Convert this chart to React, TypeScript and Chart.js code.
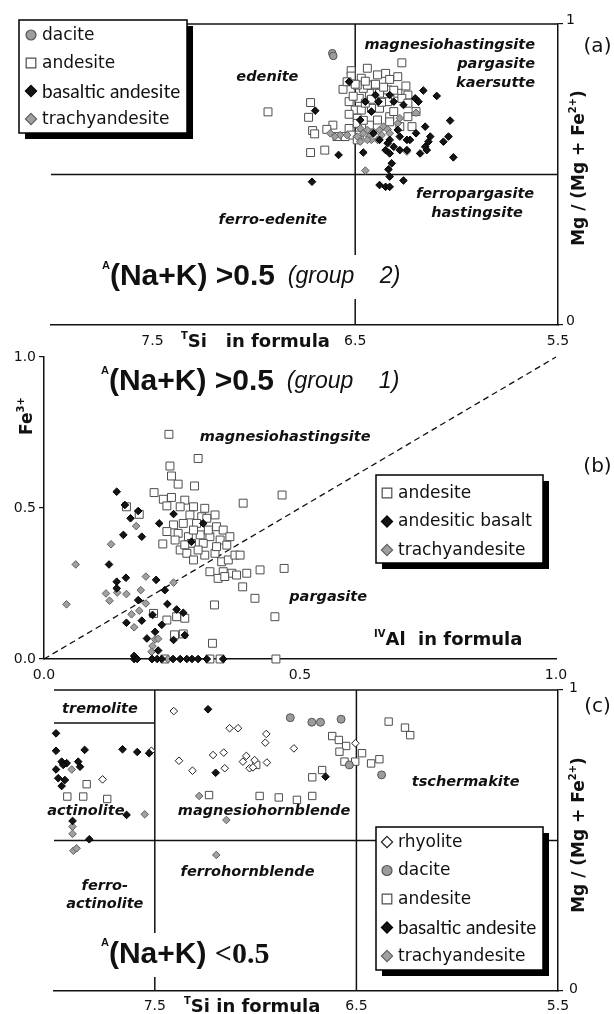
import React, { useEffect, useRef } from "react";
import { Chart, registerables } from "chart.js";

Chart.register(...registerables);

type Pt = [number, number];

// ================= Panel (a): TSi vs Mg/(Mg+Fe2+), A(Na+K) > 0.5 (group 2)
const A_DACITE: Pt[] = [[6.613, 0.903], [6.608, 0.894]];
const A_ANDESITE: Pt[] = [
  [6.27, 0.871], [6.44, 0.853], [6.52, 0.845], [6.72, 0.739], [6.73, 0.69], [6.71, 0.646], [6.7, 0.635],
  [6.72, 0.573], [6.65, 0.581], [6.61, 0.664], [6.64, 0.65], [6.56, 0.783], [6.53, 0.742], [6.52, 0.827],
  [6.47, 0.82], [6.39, 0.831], [6.35, 0.836], [6.33, 0.816], [6.29, 0.825], [6.25, 0.794], [6.24, 0.764],
  [6.34, 0.781], [6.43, 0.77], [6.46, 0.786], [6.5, 0.714], [6.47, 0.714], [6.42, 0.72], [6.38, 0.72],
  [6.41, 0.797], [6.44, 0.797], [6.29, 0.77], [6.27, 0.753], [6.24, 0.692], [6.33, 0.692], [6.49, 0.687],
  [6.53, 0.653], [6.52, 0.631], [6.48, 0.631], [6.49, 0.615], [6.55, 0.626], [6.59, 0.626], [6.43, 0.664],
  [6.39, 0.681], [6.33, 0.675], [6.34, 0.742], [6.31, 0.709], [6.48, 0.753], [6.45, 0.737], [6.49, 0.67],
  [6.28, 0.659], [6.24, 0.737], [6.22, 0.659], [6.2, 0.709], [6.54, 0.808], [6.38, 0.77], [6.49, 0.797],
  [6.93, 0.708], [6.5, 0.8], [6.45, 0.81], [6.4, 0.8], [6.36, 0.79], [6.31, 0.78], [6.42, 0.75], [6.37, 0.74],
  [6.53, 0.7], [6.46, 0.68], [6.51, 0.76],
];
const A_BASALTIC: Pt[] = [
  [6.713, 0.476], [6.697, 0.712], [6.582, 0.565], [6.53, 0.808], [6.46, 0.573], [6.45, 0.742], [6.475, 0.681],
  [6.4, 0.764], [6.385, 0.742], [6.42, 0.709], [6.33, 0.764], [6.31, 0.742], [6.262, 0.731], [6.204, 0.753],
  [6.188, 0.742], [6.164, 0.779], [6.098, 0.761], [6.155, 0.659], [6.13, 0.626], [6.032, 0.679], [6.04, 0.626],
  [6.065, 0.609], [6.016, 0.557], [6.155, 0.592], [6.147, 0.581], [6.18, 0.57], [6.245, 0.615], [6.28, 0.626],
  [6.33, 0.615], [6.34, 0.604], [6.35, 0.581], [6.31, 0.592], [6.28, 0.581], [6.33, 0.57], [6.32, 0.537],
  [6.336, 0.517], [6.33, 0.493], [6.38, 0.465], [6.35, 0.459], [6.33, 0.459], [6.262, 0.48], [6.23, 0.615],
  [6.2, 0.637], [6.41, 0.637], [6.29, 0.648], [6.245, 0.581], [6.38, 0.615], [6.139, 0.609],
];
const A_TRACHY: Pt[] = [
  [6.623, 0.637], [6.574, 0.631], [6.54, 0.631], [6.475, 0.653], [6.46, 0.637], [6.44, 0.648], [6.43, 0.626],
  [6.41, 0.642], [6.38, 0.648], [6.36, 0.659], [6.34, 0.65], [6.39, 0.615], [6.42, 0.615], [6.475, 0.609],
  [6.29, 0.67], [6.28, 0.687], [6.2, 0.705], [6.245, 0.576], [6.45, 0.513], [6.37, 0.631], [6.33, 0.637],
  [6.44, 0.615], [6.49, 0.626], [6.6, 0.626],
];

// ================= Panel (b): IVAl vs Fe3+, A(Na+K) > 0.5 (group 1)
const B_ANDESITE: Pt[] = [
  [0.244, 0.744], [0.301, 0.664], [0.246, 0.639], [0.249, 0.606], [0.262, 0.579], [0.294, 0.573], [0.215, 0.551],
  [0.233, 0.529], [0.249, 0.535], [0.275, 0.526], [0.292, 0.504], [0.314, 0.499], [0.334, 0.477], [0.389, 0.516],
  [0.465, 0.543], [0.24, 0.507], [0.266, 0.504], [0.285, 0.477], [0.308, 0.471], [0.253, 0.444], [0.272, 0.449],
  [0.298, 0.449], [0.318, 0.466], [0.337, 0.438], [0.35, 0.427], [0.363, 0.405], [0.24, 0.422], [0.262, 0.416],
  [0.282, 0.405], [0.305, 0.411], [0.324, 0.405], [0.344, 0.394], [0.357, 0.377], [0.232, 0.381], [0.256, 0.394],
  [0.266, 0.361], [0.279, 0.35], [0.292, 0.328], [0.314, 0.344], [0.334, 0.35], [0.347, 0.322], [0.36, 0.328],
  [0.373, 0.344], [0.383, 0.344], [0.324, 0.289], [0.35, 0.289], [0.367, 0.284], [0.34, 0.267], [0.353, 0.273],
  [0.376, 0.278], [0.396, 0.284], [0.422, 0.295], [0.469, 0.3], [0.388, 0.239], [0.412, 0.201], [0.333, 0.179],
  [0.451, 0.14], [0.24, 0.129], [0.259, 0.14], [0.275, 0.135], [0.272, 0.083], [0.329, 0.052], [0.344, 0],
  [0.453, 0], [0.288, 0.383], [0.311, 0.383], [0.337, 0.372], [0.301, 0.361], [0.275, 0.378], [0.321, 0.427],
  [0.292, 0.427], [0.161, 0.504], [0.186, 0.479], [0.214, 0.151], [0.255, 0.08], [0.236, 0], [0.324, 0],
];
const B_BASALT: Pt[] = [
  [0.142, 0.554], [0.158, 0.51], [0.184, 0.49], [0.169, 0.466], [0.155, 0.411], [0.191, 0.405], [0.225, 0.449],
  [0.127, 0.313], [0.142, 0.256], [0.16, 0.269], [0.142, 0.234], [0.219, 0.262], [0.236, 0.228], [0.184, 0.195],
  [0.241, 0.182], [0.259, 0.164], [0.272, 0.153], [0.161, 0.12], [0.191, 0.127], [0.212, 0.146], [0.23, 0.113],
  [0.217, 0.09], [0.201, 0.068], [0.223, 0.028], [0.253, 0.063], [0.275, 0.079], [0.176, 0.01], [0.253, 0.48],
  [0.311, 0.449], [0.288, 0.388], [0.176, 0], [0.182, 0], [0.211, 0], [0.221, 0], [0.23, 0], [0.252, 0],
  [0.266, 0], [0.279, 0], [0.289, 0], [0.301, 0], [0.318, 0], [0.35, 0],
];
const B_TRACHY: Pt[] = [
  [0.062, 0.313], [0.044, 0.181], [0.131, 0.38], [0.18, 0.44], [0.121, 0.217], [0.128, 0.193], [0.143, 0.22],
  [0.161, 0.215], [0.199, 0.273], [0.189, 0.228], [0.199, 0.184], [0.171, 0.148], [0.186, 0.16], [0.176, 0.105],
  [0.217, 0.065], [0.223, 0.067], [0.212, 0.043], [0.21, 0.024], [0.253, 0.253], [0.211, 0], [0.242, 0],
];

// ================= Panel (c): TSi vs Mg/(Mg+Fe2+), A(Na+K) < 0.5
const C_RHYOLITE: Pt[] = [
  [7.517, 0.798], [7.759, 0.703], [7.406, 0.93], [7.129, 0.873], [7.087, 0.873], [7.38, 0.765], [7.313, 0.732],
  [7.211, 0.784], [7.158, 0.792], [7.153, 0.74], [6.947, 0.854], [6.952, 0.825], [6.81, 0.806], [7.063, 0.762],
  [7.046, 0.781], [7.03, 0.74], [7.005, 0.767], [6.944, 0.759], [7.013, 0.743], [6.505, 0.823],
];
const C_DACITE: Pt[] = [[6.828, 0.908], [6.721, 0.893], [6.678, 0.893], [6.576, 0.903], [6.535, 0.751], [6.375, 0.718]];
const C_ANDESITE: Pt[] = [
  [7.838, 0.687], [7.934, 0.646], [7.855, 0.646], [7.736, 0.638], [7.231, 0.651], [6.62, 0.847], [6.587, 0.834],
  [6.551, 0.814], [6.584, 0.795], [6.472, 0.79], [6.559, 0.762], [6.506, 0.762], [6.427, 0.756], [6.386, 0.77],
  [6.67, 0.734], [6.719, 0.71], [6.98, 0.648], [6.885, 0.643], [6.795, 0.635], [6.719, 0.648], [6.997, 0.751],
  [6.34, 0.895], [6.259, 0.875], [6.233, 0.85],
];
const C_BASALTIC: Pt[] = [
  [7.236, 0.936], [7.99, 0.856], [7.99, 0.798], [7.848, 0.801], [7.66, 0.803], [7.587, 0.794], [7.528, 0.79],
  [7.962, 0.762], [7.937, 0.757], [7.88, 0.762], [7.99, 0.736], [7.954, 0.751], [7.871, 0.745], [7.979, 0.707],
  [7.946, 0.701], [7.962, 0.681], [7.64, 0.585], [7.908, 0.565], [7.825, 0.504], [7.198, 0.725], [6.653, 0.712],
];
const C_TRACHY: Pt[] = [
  [7.912, 0.736], [7.55, 0.587], [7.908, 0.546], [7.908, 0.522], [7.904, 0.466], [7.888, 0.474], [7.145, 0.568],
  [7.195, 0.452], [7.28, 0.648],
];

// ================= Axis ticks
const SI_TICKS = [7.5, 6.5, 5.5];
const MG_TICKS = [0, 1];
const AL_TICKS = [0, 0.5, 1.0];
const FE_TICKS = [0, 0.5, 1.0];

// ================= Classification boundaries
const A_TOP: Pt[] = [[8.0, 1], [5.5, 1]];
const A_HALF: Pt[] = [[8.0, 0.5], [5.5, 0.5]];
const A_SI65: Pt[] = [[6.5, 0], [6.5, 1]];
const B_DIAG: Pt[] = [[0, 0], [1, 1]];
const C_TOP: Pt[] = [[8.0, 1], [5.5, 1]];
const C_HALF: Pt[] = [[8.0, 0.5], [5.5, 0.5]];
const C_SI75: Pt[] = [[7.5, 0], [7.5, 1]];
const C_SI65: Pt[] = [[6.5, 0], [6.5, 1]];
const C_TREM: Pt[] = [[8.0, 0.89], [7.5, 0.89]];

// ================= Styles
const FONT = "'DejaVu Sans'";
const INK = "#111111";
const F_REGION = `italic bold 14.5px ${FONT}`;
const F_TITLE = `bold 18px ${FONT}`;
const F_YTITLE = `bold 17px ${FONT}`;
const F_SUP = `bold 10px ${FONT}`;
const F_BIG = "bold 30px 'Liberation Sans', Arial";
const F_BIG_SERIF = "bold 30px 'Liberation Serif', 'Times New Roman'";
const F_BIG_SUP = "bold 11px 'Liberation Sans', Arial";
const F_GROUP = "italic 23px 'Liberation Sans', Arial";
const F_LEGEND = `17px ${FONT}`;
const F_LEGEND_ALT = "19px Lato";
const F_PANEL = `20px ${FONT}`;

type Kind = "rhyolite" | "dacite" | "andesite" | "basaltic" | "trachy";
const MARK: Record<Kind, any> = {
  rhyolite: { style: "rectRot", r: 3.8, bg: "#ffffff", bd: "#222222", order: 4 },
  dacite: { style: "circle", r: 3.8, bg: "#9c9c9c", bd: "#555555", order: 2 },
  andesite: { style: "rect", r: 5.6, bg: "#ffffff", bd: "#4d4d4d", order: 5 },
  basaltic: { style: "rectRot", r: 3.8, bg: "#141414", bd: "#000000", order: 3 },
  trachy: { style: "rectRot", r: 3.8, bg: "#a0a0a0", bd: "#606060", order: 4 },
};

function series(label: string, pts: Pt[], kind: Kind, legendFont = F_LEGEND, scale = 1) {
  const m = MARK[kind];
  return {
    label, kind, legendFont,
    data: pts.map(([x, y]) => ({ x, y })),
    pointStyle: m.style, pointRadius: m.r * scale, pointHoverRadius: m.r * scale,
    pointBackgroundColor: m.bg, pointBorderColor: m.bd, pointBorderWidth: 1,
    showLine: false, clip: false, order: m.order,
  };
}
function boundary(pts: Pt[], dash: number[] = [], width = 1.5) {
  return {
    label: "", data: pts.map(([x, y]) => ({ x, y })), showLine: true, borderColor: INK,
    borderWidth: width, borderDash: dash, pointRadius: 0, pointHoverRadius: 0, clip: false,
    order: 50, fill: false, tension: 0,
  };
}

const tickFont = { family: FONT, size: 14 };
function siAxis(pad: number) {
  return {
    type: "linear", position: "bottom", min: 5.5, max: 8.0, reverse: true,
    afterBuildTicks: (s: any) => { s.ticks = SI_TICKS.map((v) => ({ value: v })); },
    afterFit: (s: any) => { s.height = 20; },
    ticks: { autoSkip: false, maxRotation: 0, padding: pad, color: INK, font: tickFont, callback: (v: any) => Number(v).toFixed(1) },
    grid: { display: false, drawTicks: false },
    border: { display: true, color: INK, width: 1.5 },
  };
}
function mgAxis(labelOffset: number, pad: number) {
  return {
    type: "linear", position: "right", min: 0, max: 1,
    afterBuildTicks: (s: any) => { s.ticks = MG_TICKS.map((v) => ({ value: v })); },
    afterFit: (s: any) => { s.width = 30; },
    ticks: { autoSkip: false, padding: pad, labelOffset, color: INK, font: tickFont, callback: (v: any) => String(Number(v)) },
    grid: { display: true, drawOnChartArea: false, drawTicks: true, tickLength: 5, color: INK, lineWidth: 1.2 },
    border: { display: true, color: INK, width: 1.5 },
  };
}

// ================= Text helpers
type Seg = { t: string; f: string; dy?: number };
function measure(ctx: CanvasRenderingContext2D, segs: Seg[]) {
  return segs.map((s) => { ctx.font = s.f; return ctx.measureText(s.t).width; });
}
function rich(ctx: CanvasRenderingContext2D, segs: Seg[], x: number, y: number, align: "left" | "center" | "right" = "left") {
  ctx.textBaseline = "middle";
  ctx.textAlign = "left";
  const w = measure(ctx, segs);
  const total = w.reduce((a, b) => a + b, 0);
  let cx = align === "left" ? x : align === "center" ? x - total / 2 : x - total;
  segs.forEach((s, i) => { ctx.font = s.f; ctx.fillText(s.t, cx, y + (s.dy || 0)); cx += w[i]; });
  return total;
}
function rotated(ctx: CanvasRenderingContext2D, segs: Seg[], cx: number, cy: number) {
  ctx.save(); ctx.translate(cx, cy); ctx.rotate(-Math.PI / 2); rich(ctx, segs, 0, 0, "center"); ctx.restore();
}
function bigLabel(ctx: CanvasRenderingContext2D, segs: Seg[], x: number, y: number, clear: boolean) {
  const total = measure(ctx, segs).reduce((a, b) => a + b, 0);
  if (clear) { ctx.fillStyle = "#ffffff"; ctx.fillRect(x - 3, y - 22, total + 6, 44); }
  ctx.fillStyle = INK;
  rich(ctx, segs, x, y, "left");
}
function drawMarker(ctx: CanvasRenderingContext2D, kind: Kind, x: number, y: number) {
  const m = MARK[kind];
  ctx.beginPath();
  if (m.style === "circle") ctx.arc(x, y, 5, 0, Math.PI * 2);
  else if (m.style === "rect") ctx.rect(x - 4.8, y - 4.8, 9.6, 9.6);
  else { const h = 5.6; ctx.moveTo(x, y - h); ctx.lineTo(x + h, y); ctx.lineTo(x, y + h); ctx.lineTo(x - h, y); ctx.closePath(); }
  ctx.fillStyle = m.bg; ctx.fill();
  ctx.lineWidth = 1.2; ctx.strokeStyle = m.bd; ctx.stroke();
}
function legendBox(ctx: CanvasRenderingContext2D, chart: any, L: any, top: number) {
  const y = L.y - top;
  ctx.fillStyle = "#000"; ctx.fillRect(L.x + 6, y + 6, L.w, L.h);
  ctx.fillStyle = "#fff"; ctx.fillRect(L.x, y, L.w, L.h);
  ctx.strokeStyle = "#000"; ctx.lineWidth = 1.5; ctx.strokeRect(L.x, y, L.w, L.h);
  const items = chart.data.datasets.filter((d: any) => d.kind);
  L.order.forEach((label: string, i: number) => {
    const d = items.find((it: any) => it.label === label);
    if (!d) return;
    const ry = L.row0 + i * L.step - top;
    drawMarker(ctx, d.kind, L.mx, ry);
    ctx.fillStyle = INK;
    rich(ctx, [{ t: d.label, f: d.legendFont }], L.tx, ry + 0.5, "left");
  });
}
type Region = { t: string; x: number; y: number; align: "left" | "center" | "right" };
function regions(ctx: CanvasRenderingContext2D, chart: any, list: Region[]) {
  const X = chart.scales.x, Y = chart.scales.y;
  ctx.fillStyle = INK;
  list.forEach((r) => rich(ctx, [{ t: r.t, f: F_REGION }], X.getPixelForValue(r.x), Y.getPixelForValue(r.y), r.align));
}

const A_REGIONS: Region[] = [
  { t: "edenite", x: 6.933, y: 0.824, align: "center" },
  { t: "magnesiohastingsite", x: 5.613, y: 0.93, align: "right" },
  { t: "pargasite", x: 5.613, y: 0.867, align: "right" },
  { t: "kaersutte", x: 5.613, y: 0.804, align: "right" },
  { t: "ferropargasite", x: 5.909, y: 0.435, align: "center" },
  { t: "hastingsite", x: 5.899, y: 0.372, align: "center" },
  { t: "ferro-edenite", x: 6.906, y: 0.349, align: "center" },
];
const B_REGIONS: Region[] = [
  { t: "magnesiohastingsite", x: 0.471, y: 0.735, align: "center" },
  { t: "pargasite", x: 0.555, y: 0.205, align: "center" },
];
const C_REGIONS: Region[] = [
  { t: "tremolite", x: 7.772, y: 0.937, align: "center" },
  { t: "actinolite", x: 7.842, y: 0.596, align: "center" },
  { t: "magnesiohornblende", x: 6.958, y: 0.596, align: "center" },
  { t: "tschermakite", x: 5.958, y: 0.695, align: "center" },
  { t: "ferrohornblende", x: 7.04, y: 0.396, align: "center" },
  { t: "ferro-", x: 7.748, y: 0.347, align: "center" },
  { t: "actinolite", x: 7.748, y: 0.289, align: "center" },
];

const LEG_A = { x: 19, y: 20, w: 168, h: 113, row0: 35, step: 28, mx: 31, tx: 42, order: ["dacite", "andesite", "basaltic andesite", "trachyandesite"] };
const LEG_B = { x: 376, y: 475, w: 167, h: 88, row0: 493, step: 28.5, mx: 387, tx: 398, order: ["andesite", "andesitic basalt", "trachyandesite"] };
const LEG_C = { x: 376, y: 827, w: 167, h: 143, row0: 842, step: 28.5, mx: 387, tx: 398, order: ["rhyolite", "dacite", "andesite", "basaltic andesite", "trachyandesite"] };

const TOP_A = 0, TOP_B = 340, TOP_C = 670;
const H_A = 350, H_B = 360, H_C = 344;

function baseOptions(padding: any, scales: any) {
  return {
    responsive: false, maintainAspectRatio: false, animation: false, devicePixelRatio: 1, events: [],
    layout: { padding },
    plugins: { legend: { display: false }, tooltip: { enabled: false } },
    scales,
  };
}
function annot(draw: (ctx: CanvasRenderingContext2D, chart: any) => void) {
  return { id: "annot", afterDraw(chart: any) { const ctx = chart.ctx; ctx.save(); draw(ctx, chart); ctx.restore(); } };
}

function configA(): any {
  return {
    type: "scatter",
    data: {
      datasets: [
        series("dacite", A_DACITE, "dacite"),
        series("basaltic andesite", A_BASALTIC, "basaltic", F_LEGEND_ALT),
        series("trachyandesite", A_TRACHY, "trachy"),
        series("andesite", A_ANDESITE, "andesite"),
        boundary(A_TOP), boundary(A_HALF), boundary(A_SI65),
      ],
    },
    options: baseOptions({ left: 51, right: 26, top: 24, bottom: 5 }, { x: siAxis(8), y: mgAxis(-4, 3) }),
    plugins: [annot((ctx, chart) => {
      const t = TOP_A;
      regions(ctx, chart, A_REGIONS);
      bigLabel(ctx, [
        { t: "A", f: F_BIG_SUP, dy: -11 },
        { t: "(Na+K) >0.5", f: F_BIG },
        { t: "  (group    2)", f: F_GROUP },
      ], 102, 277 - t, true);
      ctx.fillStyle = INK;
      rich(ctx, [{ t: "T", f: F_SUP, dy: -6 }, { t: "Si", f: F_TITLE }, { t: "   in formula", f: F_TITLE }], 181, 342 - t);
      rotated(ctx, [{ t: "Mg / (Mg + Fe", f: F_YTITLE }, { t: "2+", f: F_SUP, dy: -7 }, { t: ")", f: F_YTITLE }], 580, 168 - t);
      rich(ctx, [{ t: "(a)", f: F_PANEL }], 597.5, 47 - t, "center");
      legendBox(ctx, chart, LEG_A, t);
    })],
  };
}

function configB(): any {
  return {
    type: "scatter",
    data: {
      datasets: [
        series("andesitic basalt", B_BASALT, "basaltic"),
        series("trachyandesite", B_TRACHY, "trachy"),
        series("andesite", B_ANDESITE, "andesite"),
        boundary(B_DIAG, [6, 4], 1.3),
      ],
    },
    options: baseOptions({ left: 4, right: 58, top: 17, bottom: 16 }, {
      x: {
        type: "linear", position: "bottom", min: 0, max: 1,
        afterBuildTicks: (s: any) => { s.ticks = AL_TICKS.map((v) => ({ value: v })); },
        afterFit: (s: any) => { s.height = 25; },
        ticks: { autoSkip: false, maxRotation: 0, padding: 8, color: INK, font: tickFont, callback: (v: any) => Number(v).toFixed(1) },
        grid: { display: false, drawTicks: false },
        border: { display: true, color: INK, width: 1.5 },
      },
      y: {
        type: "linear", position: "left", min: 0, max: 1,
        afterBuildTicks: (s: any) => { s.ticks = FE_TICKS.map((v) => ({ value: v })); },
        afterFit: (s: any) => { s.width = 40; },
        ticks: { autoSkip: false, padding: 3, color: INK, font: tickFont, callback: (v: any) => Number(v).toFixed(1) },
        grid: { display: true, drawOnChartArea: false, drawTicks: true, tickLength: 5, color: INK, lineWidth: 1.2 },
        border: { display: true, color: INK, width: 1.5 },
      },
    }),
    plugins: [annot((ctx, chart) => {
      const t = TOP_B;
      regions(ctx, chart, B_REGIONS);
      bigLabel(ctx, [
        { t: "A", f: F_BIG_SUP, dy: -11 },
        { t: "(Na+K) >0.5", f: F_BIG },
        { t: "  (group    1)", f: F_GROUP },
      ], 101, 382 - t, false);
      ctx.fillStyle = INK;
      rich(ctx, [{ t: "IV", f: F_SUP, dy: -6 }, { t: "Al", f: F_TITLE }, { t: "  in formula", f: F_TITLE }], 374, 640 - t);
      rotated(ctx, [{ t: "Fe", f: F_YTITLE }, { t: "3+", f: F_SUP, dy: -7 }], 28, 416 - t);
      rich(ctx, [{ t: "(b)", f: F_PANEL }], 597.5, 467 - t, "center");
      legendBox(ctx, chart, LEG_B, t);
    })],
  };
}

function configC(): any {
  return {
    type: "scatter",
    data: {
      datasets: [
        series("dacite", C_DACITE, "dacite", F_LEGEND, 1.05),
        series("basaltic andesite", C_BASALTIC, "basaltic", F_LEGEND_ALT),
        series("trachyandesite", C_TRACHY, "trachy"),
        series("rhyolite", C_RHYOLITE, "rhyolite"),
        series("andesite", C_ANDESITE, "andesite", F_LEGEND, 0.93),
        boundary(C_TOP), boundary(C_HALF), boundary(C_SI75), boundary(C_SI65), boundary(C_TREM),
      ],
    },
    options: baseOptions({ left: 54, right: 26, top: 20, bottom: 3 }, { x: siAxis(7), y: mgAxis(-2, 6) }),
    plugins: [annot((ctx, chart) => {
      const t = TOP_C;
      regions(ctx, chart, C_REGIONS);
      bigLabel(ctx, [
        { t: "A", f: F_BIG_SUP, dy: -12 },
        { t: "(Na+K) ", f: F_BIG },
        { t: "<0.5", f: F_BIG_SERIF },
      ], 101, 955 - t, true);
      ctx.fillStyle = INK;
      rich(ctx, [{ t: "T", f: F_SUP, dy: -6 }, { t: "Si", f: F_TITLE }, { t: " in formula", f: F_TITLE }], 184, 1007 - t);
      rotated(ctx, [{ t: "Mg / (Mg + Fe", f: F_YTITLE }, { t: "2+", f: F_SUP, dy: -7 }, { t: ")", f: F_YTITLE }], 580, 835 - t);
      rich(ctx, [{ t: "(c)", f: F_PANEL }], 597.5, 707 - t, "center");
      legendBox(ctx, chart, LEG_C, t);
    })],
  };
}

export default function App() {
  const ra = useRef<HTMLCanvasElement>(null);
  const rb = useRef<HTMLCanvasElement>(null);
  const rc = useRef<HTMLCanvasElement>(null);
  useEffect(() => {
    Chart.defaults.font.family = FONT;
    const charts = [
      new Chart(ra.current as HTMLCanvasElement, configA()),
      new Chart(rb.current as HTMLCanvasElement, configB()),
      new Chart(rc.current as HTMLCanvasElement, configC()),
    ];
    return () => charts.forEach((c) => c.destroy());
  }, []);
  const cs = (top: number, h: number): React.CSSProperties => ({ position: "absolute", left: 0, top, width: 614, height: h });
  return (
    <div style={{ position: "absolute", left: 0, top: 0, width: 614, height: 1014, background: "#ffffff", overflow: "hidden" }}>
      <canvas ref={ra} width={614} height={H_A} style={cs(TOP_A, H_A)} />
      <canvas ref={rb} width={614} height={H_B} style={cs(TOP_B, H_B)} />
      <canvas ref={rc} width={614} height={H_C} style={cs(TOP_C, H_C)} />
    </div>
  );
}
